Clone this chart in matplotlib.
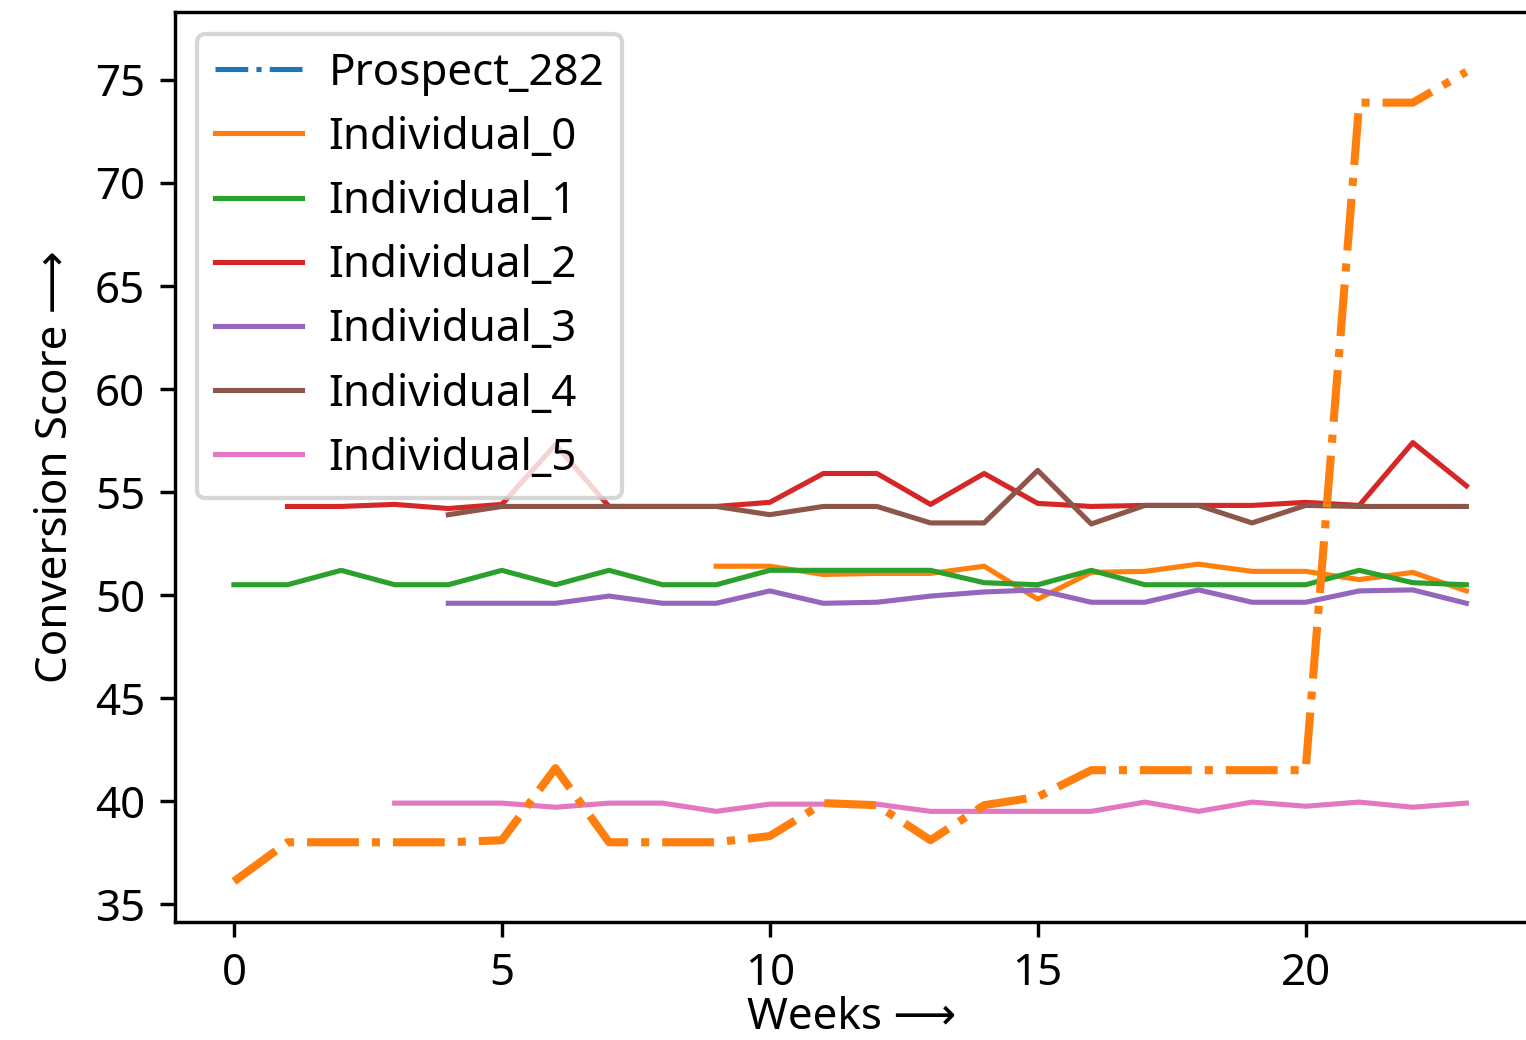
import matplotlib
matplotlib.use("Agg")
import matplotlib.pyplot as plt
from matplotlib.lines import Line2D

plt.rcParams["font.family"] = ["Noto Sans", "DejaVu Sans"]
plt.rcParams["font.size"] = 10.3

# weekly conversion scores
weeks = list(range(24))
prospect = [36.1, 38.0, 38.0, 38.0, 38.0, 38.1, 41.6, 38.0, 38.0, 38.0, 38.3, 39.9,
            39.8, 38.1, 39.8, 40.2, 41.5, 41.5, 41.5, 41.5, 41.5, 73.9, 73.9, 75.4]

ind0_weeks = list(range(9, 24))
ind0 = [51.4, 51.4, 51.0, 51.05, 51.05, 51.4, 49.8, 51.1, 51.15, 51.5, 51.15, 51.15,
        50.75, 51.1, 50.2]

ind1_weeks = list(range(0, 24))
ind1 = [50.5, 50.5, 51.2, 50.5, 50.5, 51.2, 50.5, 51.2, 50.5, 50.5, 51.2, 51.2,
        51.2, 51.2, 50.6, 50.5, 51.2, 50.5, 50.5, 50.5, 50.5, 51.2, 50.6, 50.5]

ind2_weeks = list(range(1, 24))
ind2 = [54.3, 54.3, 54.4, 54.2, 54.4, 57.3, 54.3, 54.3, 54.3, 54.5, 55.9, 55.9,
        54.4, 55.9, 54.45, 54.3, 54.35, 54.35, 54.35, 54.5, 54.35, 57.4, 55.3]

ind3_weeks = list(range(4, 24))
ind3 = [49.6, 49.6, 49.6, 49.95, 49.6, 49.6, 50.2, 49.6, 49.65, 49.95, 50.15, 50.25,
        49.65, 49.65, 50.25, 49.65, 49.65, 50.2, 50.25, 49.6]

ind4_weeks = list(range(4, 24))
ind4 = [53.9, 54.3, 54.3, 54.3, 54.3, 54.3, 53.9, 54.3, 54.3, 53.5, 53.5, 56.05,
        53.45, 54.35, 54.35, 53.5, 54.35, 54.3, 54.3, 54.3]

ind5_weeks = list(range(3, 24))
ind5 = [39.9, 39.9, 39.9, 39.7, 39.9, 39.9, 39.5, 39.85, 39.85, 39.85, 39.5, 39.5,
        39.5, 39.5, 39.95, 39.5, 39.95, 39.75, 39.95, 39.7, 39.9]

individuals = [("Individual_0", ind0_weeks, ind0),
               ("Individual_1", ind1_weeks, ind1),
               ("Individual_2", ind2_weeks, ind2),
               ("Individual_3", ind3_weeks, ind3),
               ("Individual_4", ind4_weeks, ind4),
               ("Individual_5", ind5_weeks, ind5)]
colors = ["C1", "C2", "C3", "C4", "C5", "C6"]

dpi = 307
fig = plt.figure(figsize=(1526 / dpi, 1040 / dpi), dpi=dpi)
ax = fig.add_axes([175 / 1526, 118 / 1040, 1353 / 1526, 910 / 1040])

# individuals first, prospect drawn on top
handles = [Line2D([], [], color="C0", linestyle="-.", linewidth=1.2)]
labels = ["Prospect_282"]
for (name, wk, vals), c in zip(individuals, colors):
    line, = ax.plot(wk, vals, color=c, linewidth=1.2)
    handles.append(line)
    labels.append(name)
ax.plot(weeks, prospect, color="C1", linestyle="-.", linewidth=1.9)

ax.set_xlim(-1.1, 24.15)
ax.set_ylim(34.13, 78.3)
ax.set_xticks([0, 5, 10, 15, 20])
ax.set_yticks([35, 40, 45, 50, 55, 60, 65, 70, 75])
ax.set_xlabel("Weeks \u27f6", labelpad=0)
ax.set_ylabel("Conversion Score \u27f6")
ax.legend(handles, labels, loc="upper left", handletextpad=0.6,
          labelspacing=0.46)

fig.savefig("out.png", dpi=dpi)
